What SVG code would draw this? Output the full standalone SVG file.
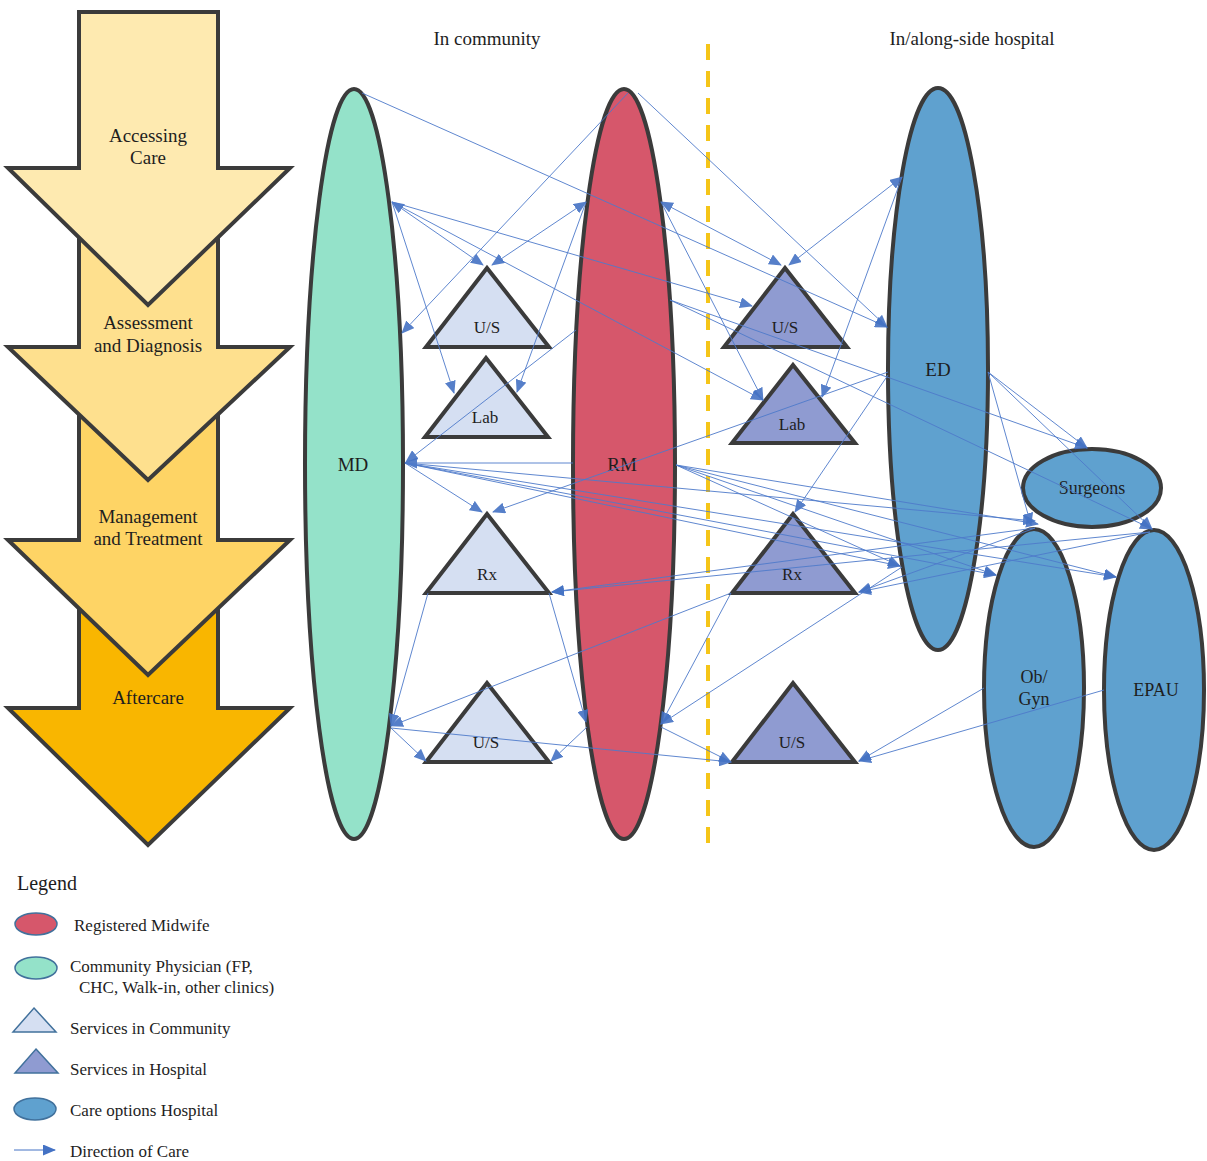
<svg xmlns="http://www.w3.org/2000/svg" width="1207" height="1161" viewBox="0 0 1207 1161">
<defs>
<marker id="ah" viewBox="0 0 13 11" refX="12" refY="5.5" markerWidth="13" markerHeight="11" markerUnits="userSpaceOnUse" orient="auto-start-reverse">
<path d="M0,0 L13,5.5 L0,11 z" fill="#4472C4"/>
</marker>
</defs>
<style>
.t{font-family:"Liberation Serif","Times New Roman",serif;fill:#1e1e1e;text-anchor:middle}
.lg{font-family:"Liberation Serif","Times New Roman",serif;fill:#1e1e1e;font-size:17px}
.st{stroke:#3b3b3b;stroke-width:4;stroke-linejoin:miter}
.ell{stroke:#3b3b3b;stroke-width:4}
.ct{fill:#D5DFF2}
.ht{fill:#8F9BD1}
.hc{fill:#5FA1CF}
.c line{stroke:#4F7BCB;stroke-width:1;opacity:0.9;marker-end:url(#ah)}
.c line.b{marker-start:url(#ah)}
</style>
<rect width="1207" height="1161" fill="#ffffff"/>

<!-- Phase arrows -->
<g id="phase-aftercare">
<polygon class="st" fill="#F9B600" points="79,590 218,590 218,708 290,708 148,845 8,708 79,708"/>
<text class="t" x="148" y="704" font-size="19">Aftercare</text>
</g>
<g id="phase-management">
<polygon class="st" fill="#FED465" points="79,400 218,400 218,540 290,540 148,675 8,540 79,540"/>
<text class="t" x="148" y="523" font-size="19">Management</text>
<text class="t" x="148" y="545" font-size="19">and Treatment</text>
</g>
<g id="phase-assessment">
<polygon class="st" fill="#FEE08E" points="79,200 218,200 218,347 290,347 148,480 8,347 79,347"/>
<text class="t" x="148" y="329" font-size="19">Assessment</text>
<text class="t" x="148" y="352" font-size="19">and Diagnosis</text>
</g>
<g id="phase-accessing">
<polygon class="st" fill="#FEEAB0" points="79,12 218,12 218,168 290,168 148,305 8,168 79,168"/>
<text class="t" x="148" y="142" font-size="19">Accessing</text>
<text class="t" x="148" y="164" font-size="19">Care</text>
</g>

<!-- headers -->
<text class="t" x="487" y="45" font-size="19">In community</text>
<text class="t" x="972" y="45" font-size="19">In/along-side hospital</text>
<line x1="708" y1="44" x2="708" y2="843" stroke="#F5C518" stroke-width="4" stroke-dasharray="16,11"/>

<!-- main nodes -->
<g id="MD"><ellipse class="ell" cx="354" cy="464" rx="49" ry="375" fill="#94E2C9"/><text class="t" x="353" y="471" font-size="19">MD</text></g>
<g id="RM"><ellipse class="ell" cx="624" cy="464" rx="51" ry="375" fill="#D6576B"/><text class="t" x="622" y="471" font-size="19">RM</text></g>
<g id="ED"><ellipse class="ell hc" cx="938" cy="369" rx="50" ry="281"/><text class="t" x="938" y="376" font-size="19">ED</text></g>
<g id="Surgeons"><ellipse class="ell hc" cx="1092" cy="488" rx="69" ry="39"/><text class="t" x="1092" y="494" font-size="18">Surgeons</text></g>
<g id="ObGyn"><ellipse class="ell hc" cx="1034" cy="688" rx="50" ry="159"/><text class="t" x="1034" y="683" font-size="18">Ob/</text><text class="t" x="1034" y="705" font-size="18">Gyn</text></g>
<g id="EPAU"><ellipse class="ell hc" cx="1154" cy="690" rx="50" ry="160"/><text class="t" x="1156" y="696" font-size="18">EPAU</text></g>

<!-- community services -->
<g id="cUS1"><polygon class="st ct" points="487,268 549,347 426,347"/><text class="t" x="487" y="333" font-size="17">U/S</text></g>
<g id="cLab"><polygon class="st ct" points="486,358 548,437 425,437"/><text class="t" x="485" y="423" font-size="17">Lab</text></g>
<g id="cRx"><polygon class="st ct" points="487,514 549,593 426,593"/><text class="t" x="487" y="580" font-size="17">Rx</text></g>
<g id="cUS2"><polygon class="st ct" points="487,683 549,762 426,762"/><text class="t" x="486" y="748" font-size="17">U/S</text></g>

<!-- hospital services -->
<g id="hUS1"><polygon class="st ht" points="785,268 847,347 724,347"/><text class="t" x="785" y="333" font-size="17">U/S</text></g>
<g id="hLab"><polygon class="st ht" points="793,365 855,443 732,443"/><text class="t" x="792" y="430" font-size="17">Lab</text></g>
<g id="hRx"><polygon class="st ht" points="793,514 855,593 732,593"/><text class="t" x="792" y="580" font-size="17">Rx</text></g>
<g id="hUS2"><polygon class="st ht" points="793,683 855,762 732,762"/><text class="t" x="792" y="748" font-size="17">U/S</text></g>

<!-- connectors -->
<g id="connectors" class="c">
<line x1="362" y1="93" x2="887" y2="327"/>
<line x1="638" y1="93" x2="887" y2="327"/>
<line x1="628" y1="93" x2="402" y2="333"/>
<line class="b" x1="392" y1="202" x2="483" y2="265"/>
<line x1="392" y1="202" x2="454" y2="393"/>
<line x1="392" y1="202" x2="752" y2="306"/>
<line x1="392" y1="202" x2="763" y2="400"/>
<line class="b" x1="586" y1="202" x2="492" y2="265"/>
<line x1="586" y1="202" x2="517" y2="392"/>
<line x1="576" y1="330" x2="406" y2="462"/>
<line class="b" x1="661" y1="202" x2="781" y2="265"/>
<line x1="661" y1="202" x2="763" y2="400"/>
<line class="b" x1="902" y1="177" x2="789" y2="265"/>
<line x1="902" y1="177" x2="822" y2="397"/>
<line x1="670" y1="300" x2="1087" y2="448"/>
<line x1="670" y1="300" x2="1152" y2="529"/>
<line x1="888" y1="372" x2="493" y2="512"/>
<line x1="888" y1="375" x2="795" y2="512"/>
<line x1="573" y1="463" x2="405" y2="463"/>
<line x1="405" y1="463" x2="482" y2="512"/>
<line x1="405" y1="463" x2="900" y2="566"/>
<line x1="405" y1="463" x2="996" y2="575"/>
<line x1="405" y1="463" x2="1116" y2="577"/>
<line x1="405" y1="463" x2="1035" y2="521"/>
<line x1="676" y1="465" x2="900" y2="566"/>
<line x1="676" y1="465" x2="996" y2="575"/>
<line x1="676" y1="465" x2="1116" y2="577"/>
<line x1="676" y1="465" x2="1038" y2="524"/>
<line x1="988" y1="372" x2="1087" y2="448"/>
<line x1="988" y1="372" x2="1031" y2="525"/>
<line x1="988" y1="372" x2="1152" y2="529"/>
<line x1="1035" y1="528" x2="552" y2="592"/>
<line x1="1150" y1="532" x2="552" y2="592"/>
<line x1="1035" y1="528" x2="859" y2="592"/>
<line x1="1150" y1="532" x2="859" y2="592"/>
<line x1="902" y1="567" x2="661" y2="724"/>
<line x1="731" y1="593" x2="661" y2="724"/>
<line x1="731" y1="593" x2="391" y2="726"/>
<line x1="428" y1="593" x2="391" y2="726"/>
<line x1="549" y1="593" x2="586" y2="722"/>
<line x1="391" y1="728" x2="426" y2="761"/>
<line x1="391" y1="728" x2="731" y2="762"/>
<line x1="587" y1="727" x2="551" y2="761"/>
<line x1="661" y1="727" x2="731" y2="762"/>
<line x1="984" y1="688" x2="859" y2="761"/>
<line x1="1104" y1="690" x2="859" y2="761"/>
</g>

<!-- legend -->
<g id="legend">
<text class="lg" x="17" y="890" style="font-size:20px">Legend</text>
<ellipse cx="36" cy="924" rx="21" ry="11" fill="#D6576B" stroke="#41719C" stroke-width="1.5"/>
<text class="lg" x="74" y="931">Registered Midwife</text>
<ellipse cx="36" cy="968" rx="21" ry="11" fill="#94E2C9" stroke="#41719C" stroke-width="1.5"/>
<text class="lg" x="70" y="972">Community Physician (FP,</text>
<text class="lg" x="79" y="993">CHC, Walk-in, other clinics)</text>
<polygon points="34,1008 56,1032 13,1032" fill="#D5DFF2" stroke="#41719C" stroke-width="1.5"/>
<text class="lg" x="70" y="1034">Services in Community</text>
<polygon points="36,1049 58,1073 15,1073" fill="#8F9BD1" stroke="#41719C" stroke-width="1.5"/>
<text class="lg" x="70" y="1075">Services in Hospital</text>
<ellipse cx="35" cy="1109" rx="21" ry="11" fill="#5FA1CF" stroke="#41719C" stroke-width="1.5"/>
<text class="lg" x="70" y="1116">Care options Hospital</text>
<line x1="14" y1="1150" x2="55" y2="1150" stroke="#4472C4" stroke-width="1" marker-end="url(#ah)"/>
<text class="lg" x="70" y="1157">Direction of Care</text>
</g>
</svg>
